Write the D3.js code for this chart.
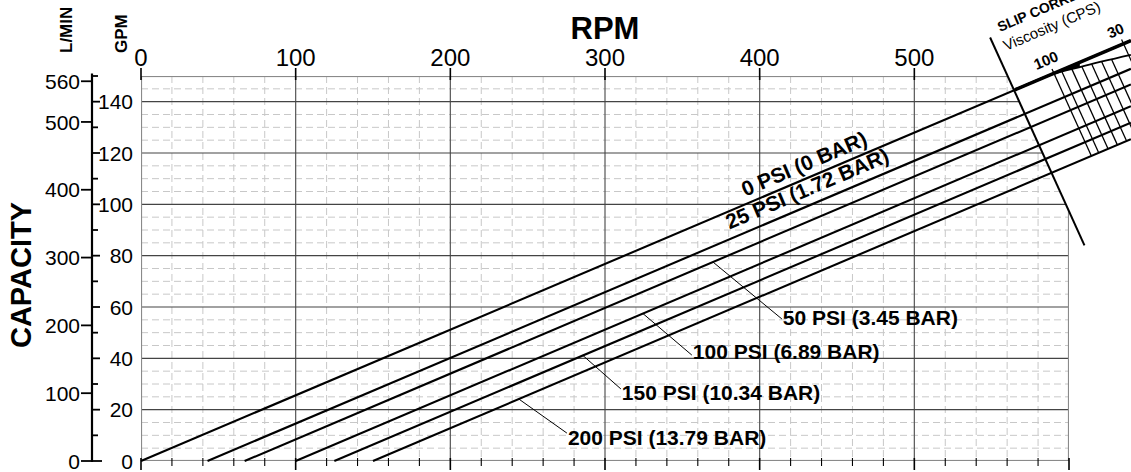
<!DOCTYPE html>
<html><head><meta charset="utf-8">
<script src="https://cdn.jsdelivr.net/npm/d3@7"></script>
<style>
body{margin:0;background:#fff}
svg{display:block;font-family:"Liberation Sans",Arial,Helvetica,sans-serif}
</style>
</head><body>
<svg id="c" width="1131" height="472"></svg>
<script>
// ---------- data ----------
const rpmTicks = [0, 100, 200, 300, 400, 500];
const gpmTicks = [0, 20, 40, 60, 80, 100, 120, 140];
const lminTicks = [0, 100, 200, 300, 400, 500, 560];
const pressureLabels = ["0 PSI (0 BAR)", "25 PSI (1.72 BAR)", "50 PSI (3.45 BAR)",
  "100 PSI (6.89 BAR)", "150 PSI (10.34 BAR)", "200 PSI (13.79 BAR)"];
// RPM where each pressure line starts (zero flow)
const lineStartRPM = [0, 43, 67, 100, 125, 150];
// flow (GPM) of each pressure line at the right edge (640 RPM)
const lineEndGPM = [163.8, 152.8, 146.7, 138.2, 131.8, 125.4];
const lineEndRPM = 640;
// slip correction scale
const diagRPM = [549, 610];
const diagGPM = [165, 84];
const viscCurveRPM = [565, 589, 607, 640];
const viscCurveGPM = [144.6, 150.6, 153.5, 158.2];
const viscosityTicks = [100, 90, 80, 70, 60, 50, 40, 30];
const viscosityLabelled = [100, 30];

// ---------- layout ----------
const svg = d3.select("#c");
const x = d3.scaleLinear().domain([0, 600]).range([141, 1069]);
const y = d3.scaleLinear().domain([0, 150]).range([461, 76]);
const yL = d3.scaleLinear().domain([0, 150 * 3.785]).range([461, 76]);
const X0 = x(0), X1 = x(600), Y0 = y(0), Y1 = y(150);

// diagonal (slip correction axis) in px
const dA = [x(diagRPM[0]), y(diagGPM[0])], dB = [x(diagRPM[1]), y(diagGPM[1])];
const dSlope = (dB[1] - dA[1]) / (dB[0] - dA[0]);
const diagXatY = yy => dA[0] + (yy - dA[1]) / dSlope;
const diagYatX = xx => dA[1] + (xx - dA[0]) * dSlope;

// clip for grid
const defs = svg.append("defs");
defs.append("clipPath").attr("id", "gclip").append("polygon")
  .attr("points", [[X0, Y1], [diagXatY(Y1), Y1], [X1, diagYatX(X1)], [X1, Y0], [X0, Y0]].map(p => p.join(",")).join(" "));

const grid = svg.append("g").attr("clip-path", "url(#gclip)");
// dashed minor verticals (every 20 RPM)
grid.selectAll(".vmin").data(d3.range(20, 600, 20).filter(v => v % 100 !== 0)).join("line")
  .attr("x1", d => x(d)).attr("x2", d => x(d)).attr("y1", Y1).attr("y2", Y0)
  .attr("stroke", "#c8c8c8").attr("stroke-width", 1).attr("stroke-dasharray", "7,4");
// dashed minor horizontals (every 5 GPM)
grid.selectAll(".hmin").data(d3.range(5, 150, 5).filter(v => v % 20 !== 0)).join("line")
  .attr("x1", X0).attr("x2", X1).attr("y1", d => y(d)).attr("y2", d => y(d))
  .attr("stroke", "#c8c8c8").attr("stroke-width", 1).attr("stroke-dasharray", "7,4");
// major verticals
grid.selectAll(".vmaj").data([100, 200, 300, 400, 500]).join("line")
  .attr("x1", d => x(d)).attr("x2", d => x(d)).attr("y1", Y1).attr("y2", Y0)
  .attr("stroke", "#555").attr("stroke-width", 1.2);
// major horizontals
grid.selectAll(".hmaj").data(gpmTicks.filter(v => v > 0)).join("line")
  .attr("x1", X0).attr("x2", X1).attr("y1", d => y(d)).attr("y2", d => y(d))
  .attr("stroke", "#444").attr("stroke-width", 1.1);
// frame
grid.append("rect").attr("x", X0).attr("y", Y1).attr("width", X1 - X0).attr("height", Y0 - Y1)
  .attr("fill", "none").attr("stroke", "#8a8a8a").attr("stroke-width", 2.2);

// top axis ticks & labels
svg.selectAll(".tt").data(rpmTicks).join("line")
  .attr("x1", d => x(d)).attr("x2", d => x(d)).attr("y1", Y1 - 8).attr("y2", Y1 + 4)
  .attr("stroke", "#000").attr("stroke-width", 1.6);
svg.selectAll(".tl").data(rpmTicks).join("text")
  .attr("x", d => x(d)).attr("y", Y1 - 10).attr("text-anchor", "middle")
  .attr("font-size", 24).text(d => d);
svg.append("text").attr("x", 605).attr("y", 39).attr("text-anchor", "middle")
  .attr("font-size", 31).attr("font-weight", "bold").text("RPM");

// bottom axis ticks
svg.selectAll(".bmin").data(d3.range(0, 601, 20)).join("line")
  .attr("x1", d => x(d)).attr("x2", d => x(d)).attr("y1", Y0 - 3).attr("y2", d => d % 100 === 0 ? Y0 + 9 : Y0 + 5)
  .attr("stroke", "#000").attr("stroke-width", d => d % 100 === 0 ? 1.6 : 1.1);

// left combined axis
const AX = 92;
svg.append("line").attr("x1", AX).attr("x2", AX).attr("y1", y(151)).attr("y2", Y0 + 1)
  .attr("stroke", "#000").attr("stroke-width", 2.2);
svg.selectAll(".lt").data(lminTicks).join("line")
  .attr("x1", AX - 11).attr("x2", AX).attr("y1", d => yL(d)).attr("y2", d => yL(d))
  .attr("stroke", "#000").attr("stroke-width", 1.8);
svg.selectAll(".ll").data(lminTicks).join("text")
  .attr("x", AX - 12).attr("y", d => yL(d)).attr("dy", "0.36em").attr("text-anchor", "end")
  .attr("font-size", 21).text(d => d);
svg.selectAll(".gt").data(d3.range(0, 151, 10)).join("line")
  .attr("x1", AX).attr("x2", d => d % 20 === 0 ? AX + (d === 0 ? 10 : 8) : AX + 6)
  .attr("y1", d => y(d)).attr("y2", d => y(d))
  .attr("stroke", "#000").attr("stroke-width", 1.8);
svg.selectAll(".gl").data(gpmTicks).join("text")
  .attr("x", 133).attr("y", d => y(d)).attr("dy", "0.36em").attr("text-anchor", "end")
  .attr("font-size", 21).text(d => d);
svg.append("text").attr("transform", "translate(72,53) rotate(-90)")
  .attr("font-size", 17).attr("font-weight", "bold").text("L/MIN");
svg.append("text").attr("transform", "translate(127,53) rotate(-90)")
  .attr("font-size", 17).attr("font-weight", "bold").text("GPM");
svg.append("text").attr("transform", "translate(31,275) rotate(-90)").attr("text-anchor", "middle")
  .attr("font-size", 29).attr("font-weight", "bold").text("CAPACITY");

// ---------- pressure lines ----------
const lineGen = d3.line().x(d => x(d[0])).y(d => y(d[1]));
const series = pressureLabels.map((lab, i) => ({
  label: lab, pts: [[lineStartRPM[i], 0], [lineEndRPM, lineEndGPM[i]]]
}));
svg.selectAll(".pl").data(series).join("path")
  .attr("d", d => lineGen(d.pts)).attr("fill", "none")
  .attr("stroke", "#000").attr("stroke-width", 2.1);

// helper: gpm on series at rpm
const gpmAt = (s, r) => s.pts[0][1] + (r - s.pts[0][0]) * (s.pts[1][1] - s.pts[0][1]) / (s.pts[1][0] - s.pts[0][0]);
const pxAngle = s => Math.atan2(y(s.pts[1][1]) - y(s.pts[0][1]), x(s.pts[1][0]) - x(s.pts[0][0])) * 180 / Math.PI;

// rotated labels on 0 and 25 PSI lines
[[0, 392.4, 7], [1, 382.7, 9]].forEach(([i, r, off]) => {
  const s = series[i];
  svg.append("text")
    .attr("transform", `translate(${x(r)},${y(gpmAt(s, r))}) rotate(${pxAngle(s)})`)
    .attr("y", -off).attr("font-size", 21).attr("font-weight", "bold").text(s.label);
});

// callout labels with leader lines: [series, rpm on line, label rpm, label gpm(baseline), leader dy]
const callouts = [[2, 369.8, 415, 53.0, -6], [3, 324.5, 356.8, 39.7, -4], [4, 285.7, 310.9, 23.8, -11], [5, 244.3, 276, 6.2, -12]];
callouts.forEach(([i, r, lr, lg, ldy]) => {
  const s = series[i];
  svg.append("line").attr("x1", x(r)).attr("y1", y(gpmAt(s, r)))
    .attr("x2", x(lr) - 1).attr("y2", y(lg) + ldy).attr("stroke", "#000").attr("stroke-width", 1);
  svg.append("text").attr("x", x(lr)).attr("y", y(lg))
    .attr("font-size", 21).attr("font-weight", "bold").text(s.label);
});

// ---------- slip correction ----------
svg.append("line").attr("x1", dA[0]).attr("y1", dA[1]).attr("x2", dB[0]).attr("y2", dB[1])
  .attr("stroke", "#000").attr("stroke-width", 2);
// thick 0 PSI continuation beyond diagonal
const s0 = series[0];
svg.append("path").attr("d", lineGen([[viscCurveRPM[0], gpmAt(s0, viscCurveRPM[0])], [lineEndRPM, lineEndGPM[0]]]))
  .attr("stroke", "#000").attr("stroke-width", 3.6).attr("fill", "none");
// lower viscosity curve
const curvePts = viscCurveRPM.map((r, i) => [r, viscCurveGPM[i]]);
const curveGen = d3.line().x(d => x(d[0])).y(d => y(d[1])).curve(d3.curveMonotoneX);
svg.append("path").attr("d", curveGen(curvePts)).attr("stroke", "#000").attr("stroke-width", 1.8).attr("fill", "none");
// wedge fill between curves near start
const wedgeArea = d3.area().x(d => x(d[0])).y0(d => y(d[1])).y1(d => y(gpmAt(s0, d[0]))).curve(d3.curveMonotoneX);
svg.append("path").attr("d", wedgeArea(curvePts.slice(0, 3))).attr("fill", "#000");

// viscosity scale lines: top at lower curve, parallel to diagonal, down to 200 PSI line
const vRPM = d3.scaleLinear().domain([100, 30]).range([589, 634]);
const curveInterp = r => {
  for (let k = 0; k < viscCurveRPM.length - 1; k++) {
    if (r <= viscCurveRPM[k + 1]) {
      const t = (r - viscCurveRPM[k]) / (viscCurveRPM[k + 1] - viscCurveRPM[k]);
      return viscCurveGPM[k] + t * (viscCurveGPM[k + 1] - viscCurveGPM[k]);
    }
  }
  return viscCurveGPM[viscCurveGPM.length - 1];
};
const s5 = series[5];
const p5a = [x(s5.pts[0][0]), y(0)], p5b = [x(s5.pts[1][0]), y(s5.pts[1][1])];
const m5 = (p5b[1] - p5a[1]) / (p5b[0] - p5a[0]);
viscosityTicks.forEach(v => {
  const r = vRPM(v);
  const labelled = viscosityLabelled.includes(v);
  const tx = x(r);
  const ty = labelled ? y(gpmAt(s0, r)) - 5 : y(curveInterp(r));
  // intersection with 200 psi line: ty + dSlope*(X - tx) = p5a[1] + m5*(X - p5a[0])
  const ex = (p5a[1] - m5 * p5a[0] - ty + dSlope * tx) / (dSlope - m5);
  const ey = ty + dSlope * (ex - tx);
  svg.append("line").attr("x1", tx).attr("y1", ty).attr("x2", ex).attr("y2", ey)
    .attr("stroke", "#000").attr("stroke-width", 1.3);
  if (labelled) {
    svg.append("text").attr("transform", `translate(${tx - 4},${ty - 4}) rotate(${pxAngle(s0)})`)
      .attr("text-anchor", "middle").attr("font-size", 15).attr("font-weight", "bold").text(v);
  }
});
const ang = pxAngle(s0);
svg.append("text").attr("transform", `translate(1000,32) rotate(${ang})`)
  .attr("font-size", 14).attr("font-weight", "bold").text("SLIP CORRECTION");
svg.append("text").attr("transform", `translate(1006,51) rotate(${ang})`)
  .attr("font-size", 15).text("Viscosity (CPS)");
</script>
</body></html>
